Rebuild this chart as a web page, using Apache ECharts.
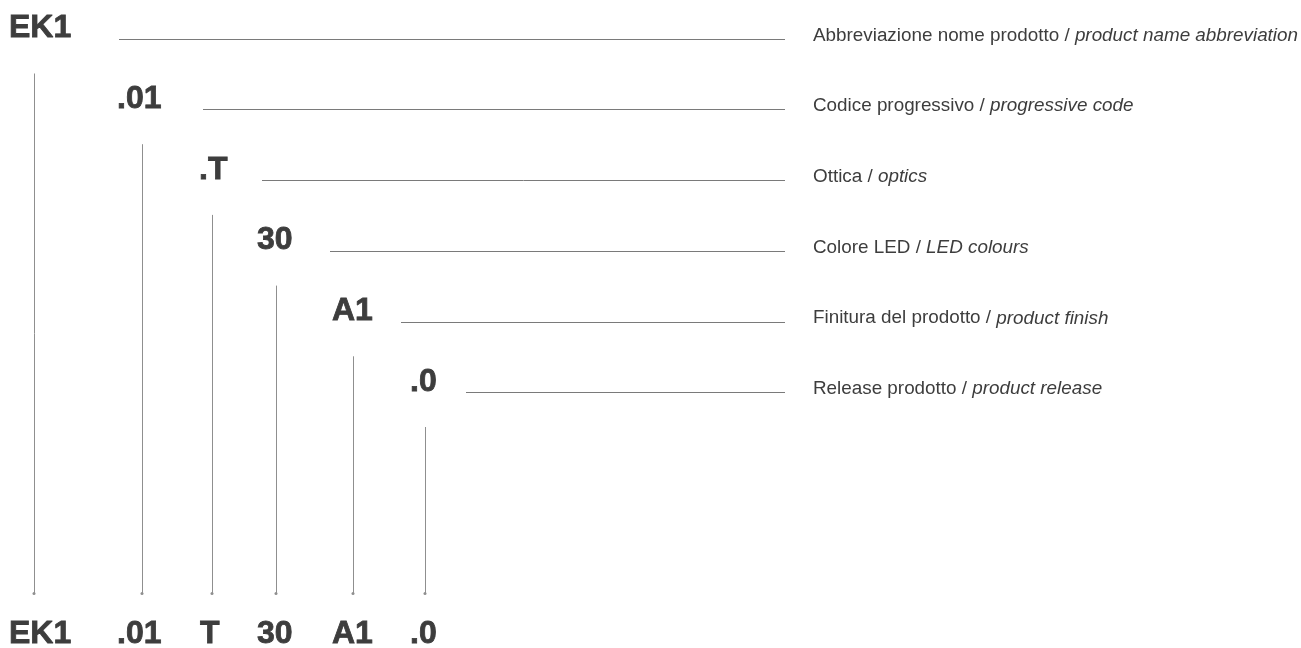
<!DOCTYPE html>
<html>
<head>
<meta charset="utf-8">
<script src="https://cdn.jsdelivr.net/npm/echarts@6/dist/echarts.min.js"></script>
<style>
html,body{margin:0;padding:0;background:#fff;}
#main{width:1301px;height:648px;}
</style>
</head>
<body>
<div id="main"></div>
<script>
// ---- data ----
var codes = ['EK1', '.01', '.T', '30', 'A1', '.0'];
var bottomCodes = ['EK1', '.01', 'T', '30', 'A1', '.0'];
var descIt = ['Abbreviazione nome prodotto', 'Codice progressivo', 'Ottica', 'Colore LED', 'Finitura del prodotto', 'Release prodotto'];
var descEn = ['product name abbreviation', 'progressive code', 'optics', 'LED colours', 'product finish', 'product release'];

// ---- layout (axis units = pixels of the 1301x648 canvas) ----
var layout = {
  rowTop: 39, rowStep: 70.7,
  codeLeft: [9, 117, 199, 257, 332, 410],
  leaderStart: [119, 203, 262, 330, 401, 466],
  leaderEnd: 785,
  stemX: [34, 142, 212, 276, 353, 425],
  stemGap: 34.5, stemEnd: 593.5,
  bottomLeft: [9, 117, 200, 257, 332, 410],
  bottomBaseline: 645.5,
  codeBaselineShift: 0.5,
  descBaselineShift: 3,
  descLeft: 813
};
function rowY(i) { return layout.rowTop + i * layout.rowStep; }

var FONT = '"Liberation Sans", Arial, Helvetica, sans-serif';
var CODE_SIZE = 32, DESC_SIZE = 18.85;
var TEXT_COLOR = '#3d3d3d', LINE_COLOR = '#7a7a7a', STEM_COLOR = '#8f8f8f';

var leaders = codes.map(function (c, i) {
  return { coords: [[layout.leaderStart[i], rowY(i)], [layout.leaderEnd, rowY(i)]] };
});
var stems = codes.map(function (c, i) {
  return { coords: [[layout.stemX[i], rowY(i) + layout.stemGap], [layout.stemX[i], layout.stemEnd]] };
});

function textSeries(items) {
  return {
    type: 'custom',
    coordinateSystem: 'cartesian2d',
    silent: true,
    data: items.map(function (d) { return [d.x, d.y]; }),
    renderItem: function (params, api) {
      var it = items[params.dataIndex];
      var p = api.coord([api.value(0), api.value(1)]);
      var style = {
        text: it.text,
        fontFamily: FONT,
        fontSize: it.size,
        fontWeight: it.bold ? 'bold' : 'normal',
        fill: TEXT_COLOR,
        align: 'left',
        verticalAlign: 'middle'
      };
      if (it.rich) style.rich = it.rich;
      if (it.bold) { style.stroke = TEXT_COLOR; style.lineWidth = 0.8; }
      return { type: 'text', x: p[0], y: p[1], style: style };
    }
  };
}

var topCodeItems = codes.map(function (c, i) {
  return { x: layout.codeLeft[i], y: rowY(i) + layout.codeBaselineShift - 0.3465 * CODE_SIZE, text: c, size: CODE_SIZE, bold: true };
});
var bottomCodeItems = bottomCodes.map(function (c, i) {
  return { x: layout.bottomLeft[i], y: layout.bottomBaseline - 0.3465 * CODE_SIZE, text: c, size: CODE_SIZE, bold: true };
});
var richDesc = {
  r: { fontStyle: 'normal', fontFamily: FONT, fontSize: DESC_SIZE, lineHeight: 22, fill: TEXT_COLOR },
  i: { fontStyle: 'italic', fontFamily: FONT, fontSize: DESC_SIZE, lineHeight: 22, fill: TEXT_COLOR }
};
var descItems = descIt.map(function (t, i) {
  return {
    x: layout.descLeft, y: rowY(i) + layout.descBaselineShift - 0.3465 * DESC_SIZE,
    text: '{r|' + t + ' / }{i|' + descEn[i] + '}', size: DESC_SIZE, bold: false,
    rich: richDesc
  };
});

var chart = echarts.init(document.getElementById('main'), null, { renderer: 'canvas' });
chart.setOption({
  animation: false,
  backgroundColor: '#ffffff',
  grid: { left: 0, right: 0, top: 0, bottom: 0 },
  xAxis: { type: 'value', min: 0, max: 1301, show: false },
  yAxis: { type: 'value', min: 0, max: 648, inverse: true, show: false },
  series: [
    {
      type: 'lines', coordinateSystem: 'cartesian2d', silent: true,
      symbol: 'none',
      lineStyle: { color: LINE_COLOR, width: 1, opacity: 1 },
      data: leaders
    },
    {
      type: 'lines', coordinateSystem: 'cartesian2d', silent: true,
      symbol: ['none', 'circle'], symbolSize: 3,
      lineStyle: { color: STEM_COLOR, width: 1, opacity: 1 },
      itemStyle: { color: '#666' },
      data: stems
    },
    textSeries(topCodeItems),
    textSeries(bottomCodeItems),
    textSeries(descItems)
  ]
});
</script>
</body>
</html>
